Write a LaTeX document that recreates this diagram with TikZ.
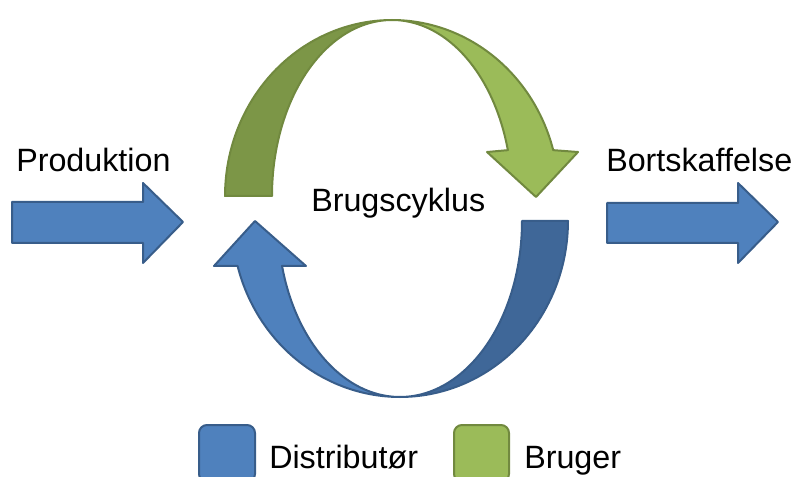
\documentclass[tikz,border=0pt]{standalone}
\usepackage{fontspec}
\setmainfont{Liberation Sans}
\definecolor{blueFill}{HTML}{4F81BD}
\definecolor{blueDark}{HTML}{3F6798}
\definecolor{blueLine}{HTML}{385D8A}
\definecolor{greenFill}{HTML}{9BBB59}
\definecolor{greenDark}{HTML}{7C9647}
\definecolor{greenLine}{HTML}{71893F}
\begin{document}
\begin{tikzpicture}[x=0.75pt,y=-0.75pt,
  bluepart/.style={fill=blueFill,draw=blueLine,line width=1.5pt,line join=round},
  bluedeep/.style={fill=blueDark,draw=blueLine,line width=1.5pt,line join=round},
  greenpart/.style={fill=greenFill,draw=greenLine,line width=1.5pt,line join=round},
  greendeep/.style={fill=greenDark,draw=greenLine,line width=1.5pt,line join=round},
  label/.style={font=\fontsize{24.2}{29}\selectfont,inner sep=0pt,anchor=base west},
  legendbox/.style={draw,line width=1.5pt,rounded corners=6pt}]
\useasboundingbox (0,0) rectangle (796,477);
\clip (0,0) rectangle (796,477);

% straight arrows in and out of the cycle
\draw[bluepart] (12,202) -- (143,202) -- (143,183) -- (183,222) -- (143,263) -- (143,243) -- (12,243) -- cycle;
\draw[bluepart] (607,203) -- (738,203) -- (738,183) -- (778,222) -- (738,263) -- (738,243) -- (607,243) -- cycle;

% upper curved arrow: shaded left side
\draw[greendeep] plot[domain=180:90,samples=50] ({392+167*cos(\x)},{196-176*sin(\x)})
  -- plot[domain=90:180,samples=50] ({392+120*cos(\x)},{196-176*sin(\x)}) -- cycle;
% upper curved arrow: right side with head
\draw[greenpart] plot[domain=90:15.1,samples=50] ({392+167*cos(\x)},{196-176*sin(\x)})
  -- (578,152) -- (536,197) -- (487,152)
  -- plot[domain=15.1:90,samples=50] ({392+120*cos(\x)},{196-176*sin(\x)}) -- cycle;

% lower curved arrow: shaded right side
\draw[bluedeep] plot[domain=0:90,samples=50] ({400+168*cos(\x)},{221+176*sin(\x)})
  -- plot[domain=90:0,samples=50] ({400+122*cos(\x)},{221+176*sin(\x)}) -- cycle;
% lower curved arrow: left side with head
\draw[bluepart] plot[domain=90:165.2,samples=50] ({400+168*cos(\x)},{221+176*sin(\x)})
  -- (214,266) -- (255,221) -- (306,266)
  -- plot[domain=165.2:90,samples=50] ({400+122*cos(\x)},{221+176*sin(\x)}) -- cycle;

% labels
\node[label] (prod) at (16,172) {Produktion};
\node[label] (bort) at (606,172) {Bortskaffelse};
\node[label] (cycle) at (311,212) {Brugscyklus};

% legend
\draw[legendbox,fill=blueFill,draw=blueLine] (199,425) rectangle (255,482);
\node[label] (dist) at (269,468) {Distributør};
\draw[legendbox,fill=greenFill,draw=greenLine] (454,425) rectangle (509,482);
\node[label] (user) at (524,468) {Bruger};
\end{tikzpicture}
\end{document}
